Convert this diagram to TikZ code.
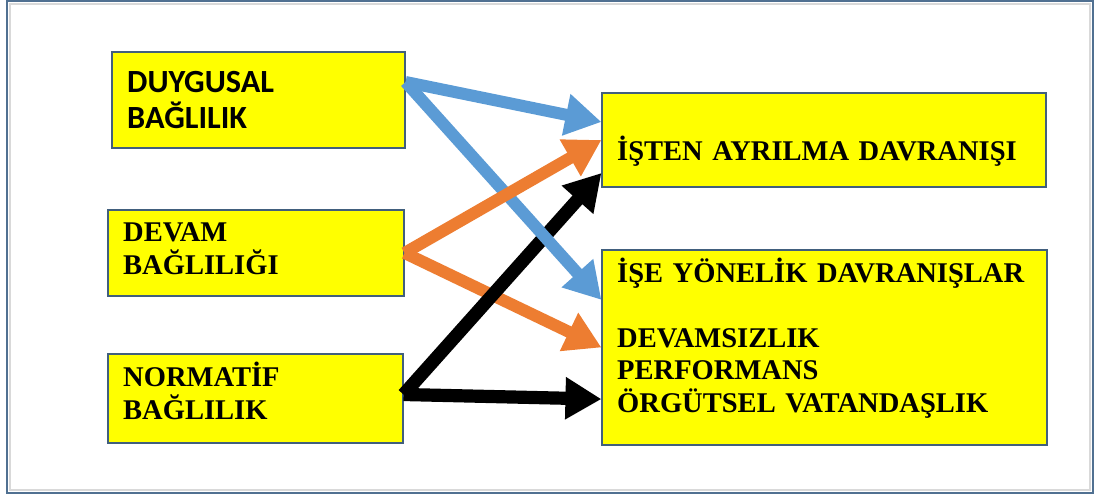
\documentclass[tikz,border=0pt]{standalone}
\usepackage{fontspec}
\setmainfont{Liberation Serif}
\newfontfamily\calibri{Carlito}
\usetikzlibrary{arrows.meta}
\definecolor{gelb}{RGB}{255,255,0}
\definecolor{pfeilblau}{RGB}{91,155,213}
\definecolor{pfeilorange}{RGB}{237,125,49}
\definecolor{rand}{RGB}{65,95,125}
\definecolor{rahmen}{RGB}{80,112,145}

\begin{document}
\begin{tikzpicture}[>={Triangle[length=0.9cm,width=1.0cm]},
  kasten/.style={draw=rand, line width=0.8pt, fill=gelb, inner xsep=0.38cm, inner ysep=0pt,
    align=left, font=\bfseries\fontsize{20.3}{23}\selectfont},
  pfeil/.style={->, line width=0.3cm}]

\useasboundingbox (0,0) rectangle (27.425,12.425);

% Rahmen
\draw[rahmen, line width=0.06cm] (0.175,0.1) rectangle (27.325,12.4);
\draw[gray!30, line width=0.05cm] (0.25,0.175) rectangle (27.25,12.325);

% Knoten links
\node[kasten, font=\calibri\bfseries\fontsize{23}{25.5}\selectfont,
  minimum width=7.325cm, minimum height=2.4cm, text width=6.565cm]
  (duygusal) at (6.4625,9.925) {DUYGUSAL\\BAĞLILIK};
\node[kasten, minimum width=7.4cm, minimum height=2.15cm, text width=6.64cm,
  text height=0.5cm, text depth=1.05cm]
  (devam) at (6.4,6.1) {DEVAM\\BAĞLILIĞI};
\node[kasten, minimum width=7.375cm, minimum height=2.225cm, text width=6.615cm,
  text height=0.5cm, text depth=1.075cm]
  (normatif) at (6.3875,2.4625) {NORMATİF\\BAĞLILIK};

% Knoten rechts
\node[kasten, minimum width=11.1cm, minimum height=2.35cm, text width=10.34cm,
  text height=1.05cm, text depth=0pt]
  (isten) at (20.6,8.925) {İŞTEN AYRILMA DAVRANIŞI};
\node[kasten, minimum width=11.125cm, minimum height=4.875cm, text width=10.365cm,
  text height=0.6cm, text depth=3.825cm]
  (ise) at (20.6125,3.7375)
  {İŞE YÖNELİK DAVRANIŞLAR\\[23pt]DEVAMSIZLIK\\PERFORMANS\\ÖRGÜTSEL VATANDAŞLIK};

% Pfeile
\draw[pfeil, pfeilorange] (devam.east) -- (ise.west);
\draw[pfeil, black, line width=0.33cm]
  ([yshift=0.1cm]normatif.east) -- ([yshift=-0.825cm]isten.west);
\draw[pfeil, black, line width=0.33cm]
  ([yshift=0.1cm]normatif.east) -- ([yshift=-1.29cm]ise.west);
\draw[pfeil, pfeilblau]
  ([yshift=0.45cm]duygusal.east) -- ([yshift=0.45cm]isten.west);
\draw[pfeil, pfeilblau]
  ([yshift=0.45cm]duygusal.east) -- ([yshift=1.19cm]ise.west);
\draw[pfeil, pfeilorange] (devam.east) -- (isten.west);

\end{tikzpicture}
\end{document}
